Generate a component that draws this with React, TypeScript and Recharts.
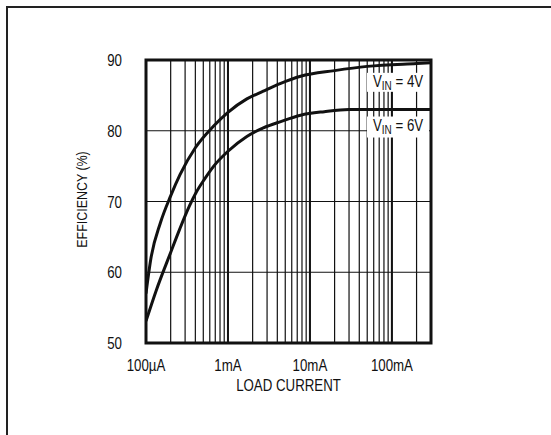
import {
  LineChart,
  Line,
  XAxis,
  YAxis,
  CartesianGrid,
  ReferenceLine,
  ReferenceArea,
} from "recharts";

// load current (A) and efficiency (%)
const current4V = [
  0.0001, 0.000115, 0.00015, 0.0002, 0.00026, 0.0004, 0.00066, 0.001, 0.0017,
  0.0027, 0.0044, 0.0077, 0.02, 0.05, 0.2, 0.3,
];
const eff4V = [
  57, 62, 67, 70.8, 73.8, 77.6, 80.6, 82.6, 84.5, 85.6, 86.7, 87.7, 88.5,
  89.1, 89.5, 89.6,
];
const current6V = [
  0.0001, 0.000133, 0.0002, 0.00026, 0.00034, 0.00041, 0.00052, 0.00066,
  0.001, 0.0017, 0.0027, 0.0044, 0.0077, 0.015, 0.03, 0.3,
];
const eff6V = [
  53.1, 57.4, 62.8, 66.2, 69.4, 71.3, 73.2, 74.9, 77.1, 79.2, 80.4, 81.3,
  82.2, 82.7, 83, 83,
];

const gridTicks = [
  0.0001, 0.0002, 0.0003, 0.0004, 0.0005, 0.0006, 0.0007, 0.0008, 0.0009,
  0.001, 0.002, 0.003, 0.004, 0.005, 0.006, 0.007, 0.008, 0.009,
  0.01, 0.02, 0.03, 0.04, 0.05, 0.06, 0.07, 0.08, 0.09,
  0.1, 0.2, 0.3,
];
const decadeTicks = [0.0001, 0.001, 0.01, 0.1];
const decadeLabels = ["100µA", "1mA", "10mA", "100mA"];
const yTicks = [50, 60, 70, 80, 90];

const FONT = "'Liberation Sans', Arial, sans-serif";
const INK = "#111";
const SQUEEZE = 0.83; // the original uses a condensed face

const data4V = current4V.map((c, i) => ({ current: c, eff: eff4V[i] }));
const data6V = current6V.map((c, i) => ({ current: c, eff: eff6V[i] }));

const fmtX = (v: number) => {
  const i = decadeTicks.findIndex((d) => Math.abs(d - v) / d < 1e-6);
  return i >= 0 ? decadeLabels[i] : "";
};

// text squeezed horizontally to mimic the narrow typeface
const Narrow = ({ x, y, anchor = "start", size = 16, rotate = 0, children }: any) => (
  <text
    transform={`translate(${x} ${y}) rotate(${rotate}) scale(${SQUEEZE} 1)`}
    textAnchor={anchor}
    fill={INK}
    fontFamily={FONT}
    fontSize={size}
  >
    {children}
  </text>
);

const XTick = (props: any) => {
  const label = fmtX(props.payload.value);
  if (!label) return null;
  return (
    <Narrow x={props.x} y={props.y + 14} anchor="middle">
      {label}
    </Narrow>
  );
};

const YTick = (props: any) => (
  <Narrow x={props.x} y={props.y + 6} anchor="end">
    {props.payload.value}
  </Narrow>
);

// V_IN label in a white box, hung below the right end of its curve
const vinLabel = (volts: string, last: number, top: number, h: number) => (p: any) => {
  if (p.index !== last) return null;
  const bx = p.x - 64;
  const by = p.y + top;
  return (
    <g>
      <rect x={bx} y={by} width={62} height={h} fill="#fff" />
      <Narrow x={bx + 6} y={by + 14}>
        V
        <tspan fontSize={12} dy={3}>IN</tspan>
        <tspan dy={-3}>{` = ${volts}`}</tspan>
      </Narrow>
    </g>
  );
};

export default function App() {
  return (
    <div
      style={{
        position: "absolute",
        left: 0,
        top: 0,
        width: 551,
        height: 435,
        background: "#fff",
      }}
    >
      {/* page frame: top and left edges only */}
      <div style={{ position: "absolute", left: 6, top: 6, width: 545, height: 2, background: "#222" }} />
      <div style={{ position: "absolute", left: 6, top: 6, width: 2, height: 429, background: "#222" }} />
      <LineChart
        width={551}
        height={435}
        margin={{ top: 60, right: 120, bottom: 62, left: 86 }}
        style={{ position: "absolute", left: 0, top: 0 }}
      >
        <CartesianGrid stroke={INK} strokeWidth={1.2} />
        <XAxis
          dataKey="current"
          type="number"
          scale="log"
          domain={[0.0001, 0.3]}
          allowDataOverflow
          ticks={gridTicks}
          interval={0}
          axisLine={false}
          tickLine={false}
          tickMargin={8}
          tick={<XTick />}
          height={30}
          label={{
            content: (p: any) => (
              <Narrow
                x={p.viewBox.x + p.viewBox.width / 2}
                y={p.viewBox.y + 48}
                anchor="middle"
              >
                LOAD CURRENT
              </Narrow>
            ),
          }}
        />
        <YAxis
          type="number"
          domain={[50, 90]}
          ticks={yTicks}
          interval={0}
          axisLine={false}
          tickLine={false}
          tickMargin={18}
          width={60}
          tick={<YTick />}
          label={{
            content: (p: any) => (
              <Narrow
                x={p.viewBox.x + 1}
                y={p.viewBox.y + p.viewBox.height / 2 - 2}
                anchor="middle"
                size={15}
                rotate={-90}
              >
                EFFICIENCY (%)
              </Narrow>
            ),
          }}
        />
        {decadeTicks.map((d) => (
          <ReferenceLine key={d} x={d} stroke={INK} strokeWidth={2} />
        ))}
        <Line
          data={data4V}
          dataKey="eff"
          type="monotone"
          stroke={INK}
          strokeWidth={3}
          dot={false}
          isAnimationActive={false}
          label={vinLabel("4V", data4V.length - 1, 10, 19)}
        />
        <Line
          data={data6V}
          dataKey="eff"
          type="monotone"
          stroke={INK}
          strokeWidth={3}
          dot={false}
          isAnimationActive={false}
          label={vinLabel("6V", data6V.length - 1, 7, 21)}
        />
        <ReferenceArea
          x1={0.0001}
          x2={0.3}
          y1={50}
          y2={90}
          fill="none"
          stroke={INK}
          strokeWidth={3}
          ifOverflow="visible"
        />
      </LineChart>
    </div>
  );
}
